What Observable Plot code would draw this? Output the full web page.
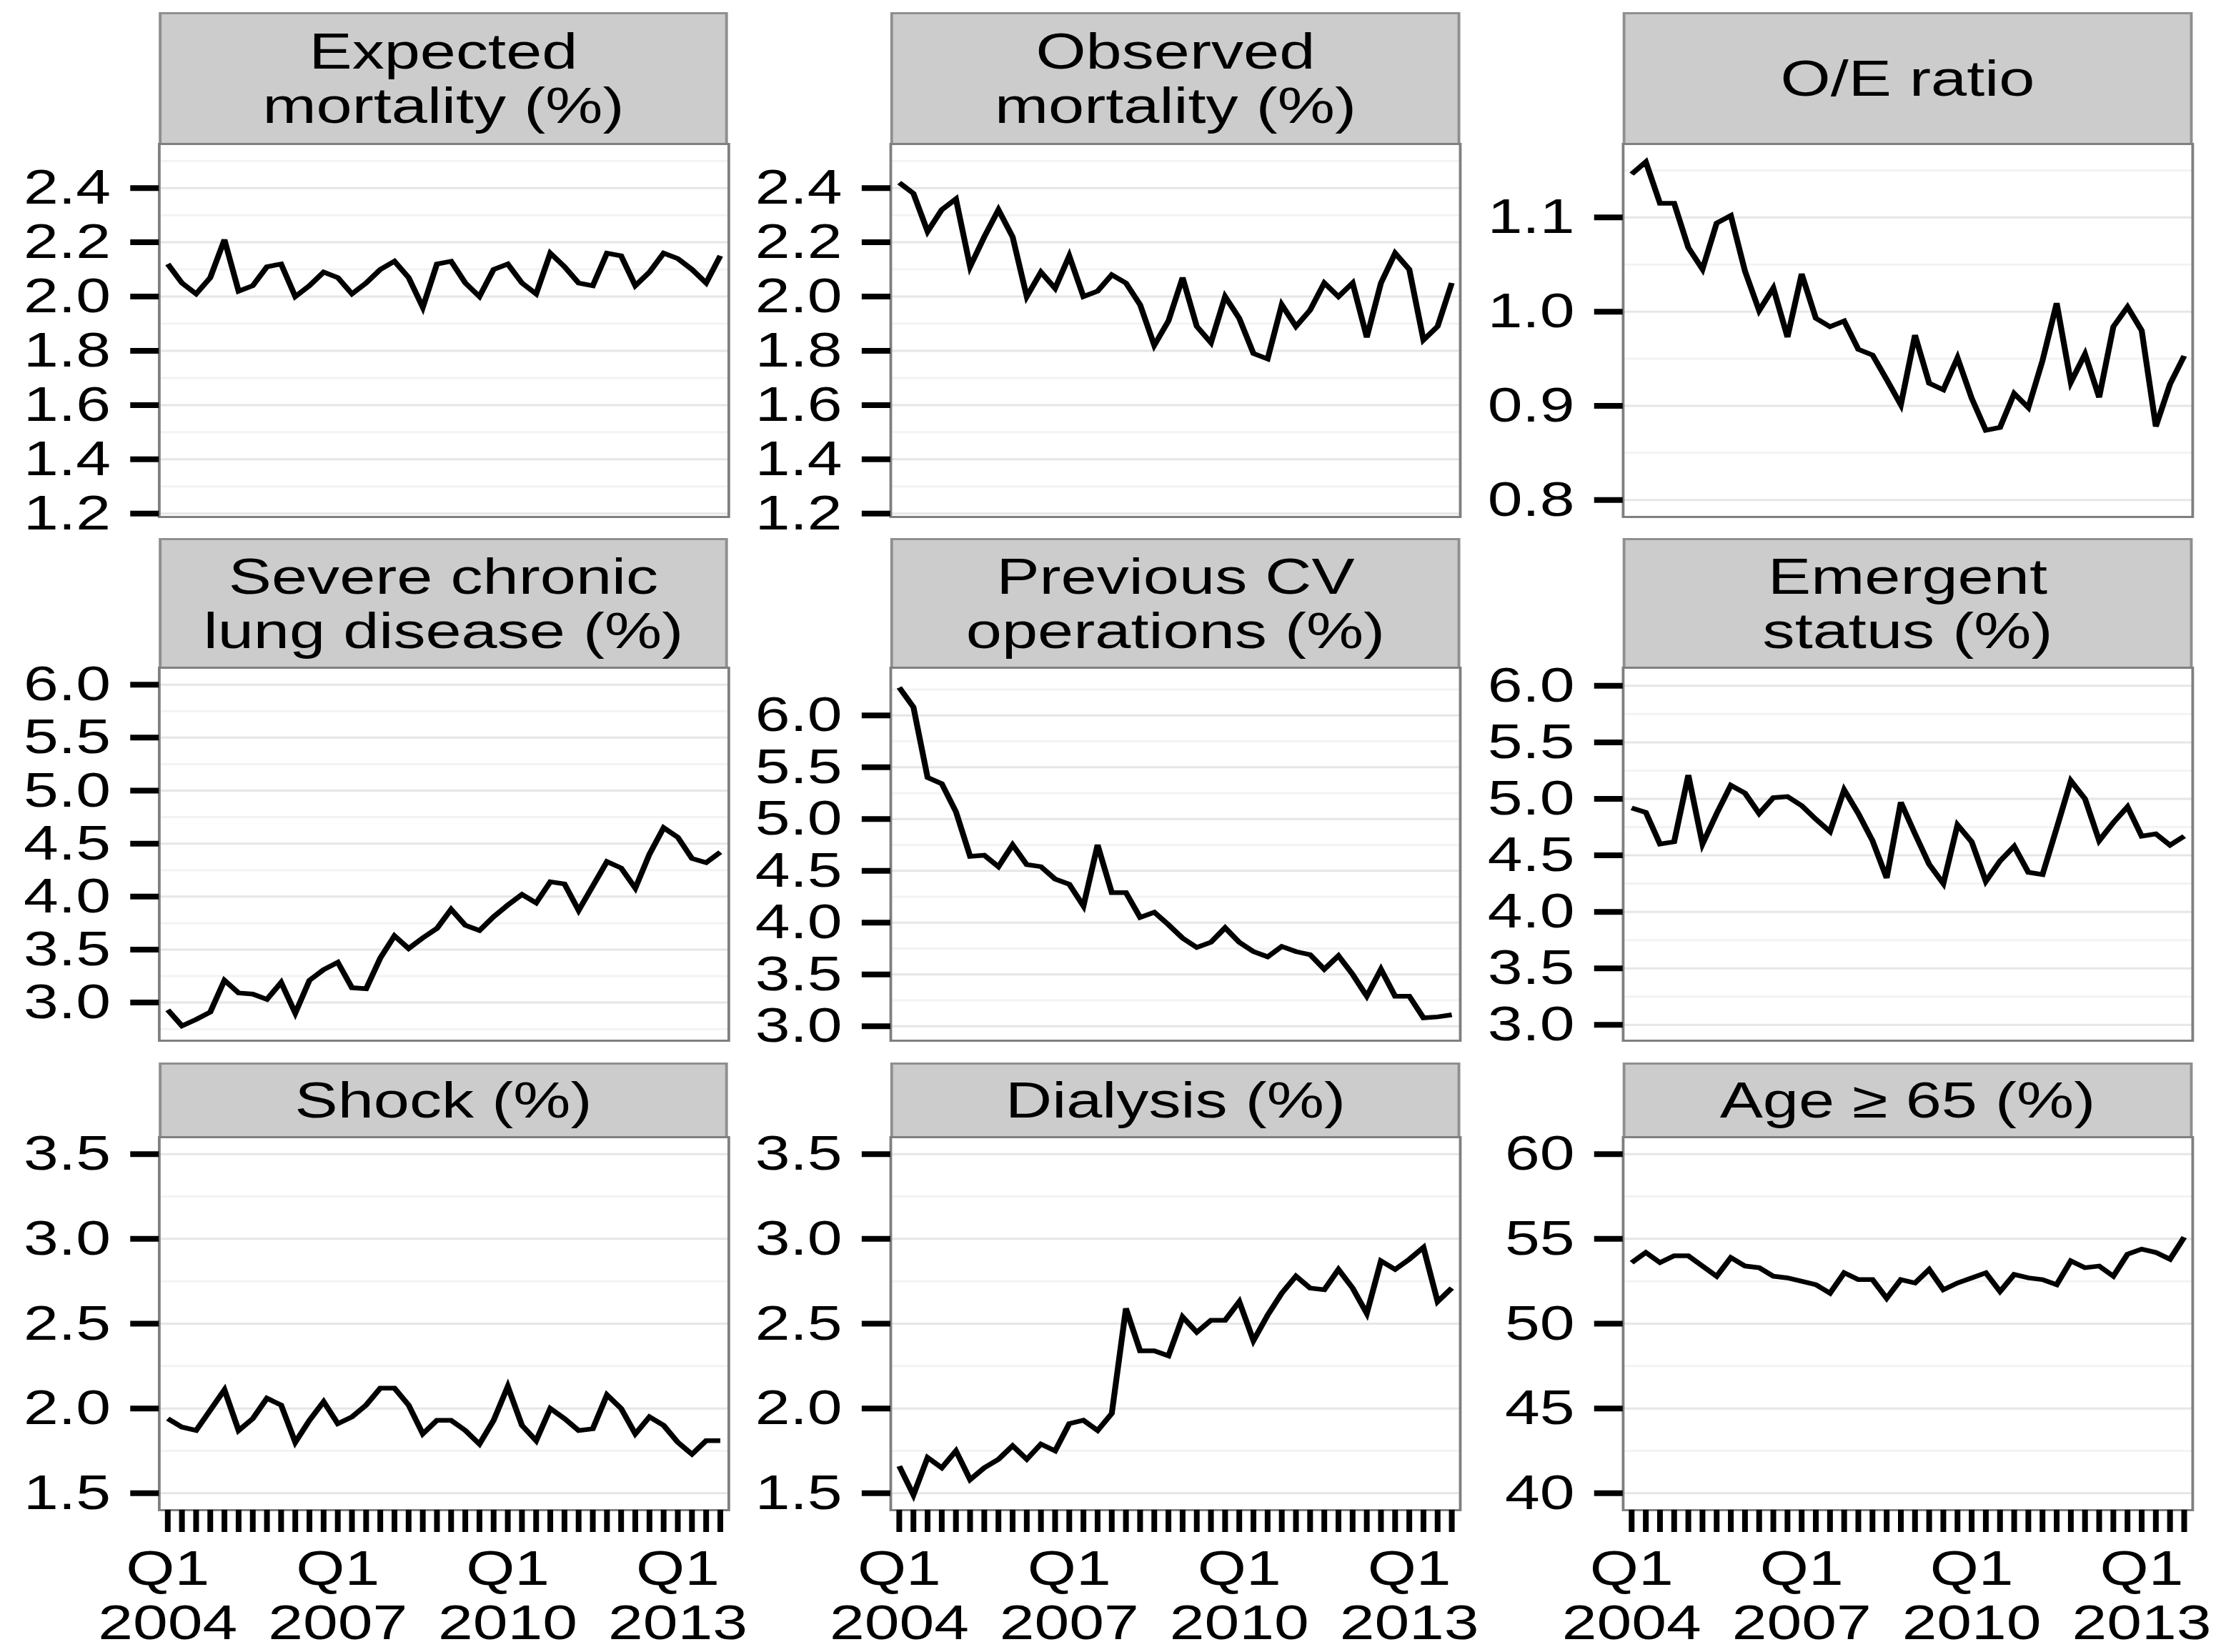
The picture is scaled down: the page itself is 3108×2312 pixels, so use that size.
<!DOCTYPE html>
<html>
<head>
<meta charset="utf-8">
<script src="https://cdn.jsdelivr.net/npm/d3@7"></script>
<script src="https://cdn.jsdelivr.net/npm/@observablehq/plot@0.6"></script>
<style>
  html, body { margin: 0; padding: 0; background: #ffffff; }
  #wrap {
    position: relative; width: 2448px; height: 2312px;
    transform: scaleX(1.27); transform-origin: 0 0;
    font-family: "Liberation Sans", Arial, Helvetica, sans-serif;
  }
  .strip {
    position: absolute; box-sizing: border-box;
    background: #cccccc; border: 3px solid #8f8f8f;
    display: flex; align-items: center; justify-content: center;
    text-align: center; font-size: 71px; line-height: 76px; color: #000;
    white-space: pre;
  }
  .panel { position: absolute; }
  .panel svg { overflow: visible; }
</style>
</head>
<body>
<div id="wrap"></div>
<script>
// ---------------- DATA ----------------
const years = [2004, 2005, 2006, 2007, 2008, 2009, 2010, 2011, 2012, 2013];
const quarterNames = ["Q1", "Q2", "Q3", "Q4"];
const quarters = years.flatMap(y => quarterNames.map(q => `${y} ${q}`));
const labeledQuarters = ["2004 Q1", "2007 Q1", "2010 Q1", "2013 Q1"];
const xTickLabels = ["Q1\n2004", "Q1\n2007", "Q1\n2010", "Q1\n2013"];

const panelTitles = [
  "Expected\nmortality (%)", "Observed\nmortality (%)", "O/E ratio",
  "Severe chronic\nlung disease (%)", "Previous CV\noperations (%)", "Emergent\nstatus (%)",
  "Shock (%)", "Dialysis (%)", "Age \u2265 65 (%)"
];

const expectedMortality = [2.12, 2.05, 2.01, 2.07, 2.21, 2.02, 2.04, 2.11, 2.12, 2.00,
  2.04, 2.09, 2.07, 2.01, 2.05, 2.10, 2.13, 2.07, 1.96, 2.12,
  2.13, 2.05, 2.00, 2.10, 2.12, 2.05, 2.01, 2.16, 2.11, 2.05,
  2.04, 2.16, 2.15, 2.04, 2.09, 2.16, 2.14, 2.10, 2.05, 2.15];
const observedMortality = [2.42, 2.38, 2.24, 2.32, 2.36, 2.11, 2.22, 2.32, 2.22, 2.00,
  2.09, 2.03, 2.15, 2.00, 2.02, 2.08, 2.05, 1.97, 1.82, 1.91,
  2.07, 1.89, 1.83, 2.00, 1.92, 1.79, 1.77, 1.97, 1.89, 1.95,
  2.05, 2.00, 2.05, 1.85, 2.05, 2.16, 2.10, 1.84, 1.89, 2.05];
const oeRatio = [1.146, 1.159, 1.115, 1.115, 1.068, 1.045, 1.094, 1.102, 1.043, 1.001,
  1.025, 0.973, 1.040, 0.993, 0.984, 0.990, 0.960, 0.954, 0.928, 0.901,
  0.975, 0.924, 0.917, 0.951, 0.908, 0.874, 0.877, 0.913, 0.898, 0.948,
  1.009, 0.925, 0.955, 0.909, 0.984, 1.005, 0.980, 0.878, 0.923, 0.953];
const chronicLungDisease = [2.93, 2.78, 2.84, 2.91, 3.21, 3.09, 3.08, 3.03, 3.19, 2.90,
  3.21, 3.31, 3.38, 3.14, 3.13, 3.42, 3.63, 3.51, 3.61, 3.70,
  3.88, 3.73, 3.68, 3.81, 3.92, 4.02, 3.94, 4.14, 4.12, 3.87,
  4.10, 4.33, 4.27, 4.08, 4.40, 4.65, 4.56, 4.36, 4.32, 4.42];
const previousCV = [6.27, 6.08, 5.40, 5.34, 5.07, 4.64, 4.65, 4.54, 4.75, 4.56,
  4.54, 4.42, 4.37, 4.16, 4.75, 4.29, 4.29, 4.05, 4.10, 3.98,
  3.85, 3.76, 3.81, 3.95, 3.81, 3.72, 3.67, 3.77, 3.72, 3.69,
  3.55, 3.68, 3.50, 3.29, 3.55, 3.29, 3.29, 3.08, 3.09, 3.11];
const emergentStatus = [4.92, 4.88, 4.60, 4.62, 5.21, 4.60, 4.87, 5.12, 5.05, 4.87,
  5.01, 5.02, 4.94, 4.82, 4.71, 5.08, 4.87, 4.63, 4.30, 4.97,
  4.69, 4.42, 4.25, 4.77, 4.62, 4.27, 4.45, 4.58, 4.35, 4.33,
  4.74, 5.16, 5.00, 4.63, 4.79, 4.93, 4.67, 4.69, 4.59, 4.67];
const shock = [1.94, 1.89, 1.87, 1.99, 2.11, 1.87, 1.94, 2.06, 2.02, 1.80,
  1.93, 2.04, 1.91, 1.95, 2.02, 2.12, 2.12, 2.02, 1.85, 1.93,
  1.93, 1.87, 1.79, 1.93, 2.13, 1.90, 1.81, 2.00, 1.94, 1.87,
  1.88, 2.08, 2.00, 1.85, 1.95, 1.90, 1.80, 1.73, 1.81, 1.81];
const dialysis = [1.66, 1.49, 1.71, 1.65, 1.75, 1.58, 1.65, 1.70, 1.78, 1.70,
  1.79, 1.75, 1.91, 1.93, 1.87, 1.97, 2.59, 2.34, 2.34, 2.31,
  2.54, 2.45, 2.52, 2.52, 2.63, 2.40, 2.55, 2.68, 2.78, 2.71,
  2.70, 2.82, 2.71, 2.56, 2.87, 2.82, 2.88, 2.95, 2.63, 2.71];
const age65 = [53.6, 54.2, 53.6, 54.0, 54.0, 53.4, 52.8, 53.9, 53.4, 53.3,
  52.8, 52.7, 52.5, 52.3, 51.8, 53.0, 52.6, 52.6, 51.5, 52.6,
  52.4, 53.2, 52.0, 52.4, 52.7, 53.0, 51.9, 52.9, 52.7, 52.6,
  52.3, 53.7, 53.3, 53.4, 52.8, 54.1, 54.4, 54.2, 53.8, 55.1];

const series = [expectedMortality, observedMortality, oeRatio,
  chronicLungDisease, previousCV, emergentStatus,
  shock, dialysis, age65];

// tick values (major) and minor grid values
const ticksMortality = [1.2, 1.4, 1.6, 1.8, 2.0, 2.2, 2.4];
const minorMortality = [1.3, 1.5, 1.7, 1.9, 2.1, 2.3, 2.5];
const ticksOE = [0.8, 0.9, 1.0, 1.1];
const minorOE = [0.85, 0.95, 1.05, 1.15];
const ticksHigh = [3.0, 3.5, 4.0, 4.5, 5.0, 5.5, 6.0];
const minorHigh = [2.75, 3.25, 3.75, 4.25, 4.75, 5.25, 5.75, 6.25];
const ticksLow = [1.5, 2.0, 2.5, 3.0, 3.5];
const minorLow = [1.75, 2.25, 2.75, 3.25];
const ticksAge = [40, 45, 50, 55, 60];
const minorAge = [42.5, 47.5, 52.5, 57.5];

const panelTicks = [ticksMortality, ticksMortality, ticksOE, ticksHigh, ticksHigh, ticksHigh, ticksLow, ticksLow, ticksAge];
const panelMinor = [minorMortality, minorMortality, minorOE, minorHigh, minorHigh, minorHigh, minorLow, minorLow, minorAge];
const panelDomains = [[1.1875, 2.5625], [1.1875, 2.5625], [0.782, 1.178],
  [2.64, 6.16], [2.86, 6.46], [2.86, 6.16],
  [1.40, 3.60], [1.40, 3.60], [39, 61]];

// ---------------- LAYOUT ----------------
const S = 1.27;                       // horizontal stretch of the whole figure
const colLeft = [222, 1246.5, 2271].map(v => v / S);
const panelW = 797 / S;
const rowStripTop = [17, 753, 1487];
const rowPanelTop = [201, 934, 1591];
const panelH = 522;
const ML = 175, MT = 3, MR = 4;

const wrap = document.getElementById("wrap");

series.forEach((values, i) => {
  const r = Math.floor(i / 3), c = i % 3;
  const bottom = r === 2;
  const MB = bottom ? 200 : 4;

  const strip = document.createElement("div");
  strip.className = "strip";
  strip.style.left = colLeft[c] + "px";
  strip.style.top = rowStripTop[r] + "px";
  strip.style.width = panelW + "px";
  strip.style.height = (rowPanelTop[r] - rowStripTop[r] + 2) + "px";
  strip.textContent = panelTitles[i];
  wrap.appendChild(strip);

  const rows = values.map((v, k) => ({quarter: quarters[k], value: v}));
  const fmt = i === 8 ? d3.format("d") : d3.format(".1f");

  const marks = [
    Plot.ruleY(panelMinor[i].filter(v => v >= panelDomains[i][0] && v <= panelDomains[i][1]),
      {stroke: "#f3f3f3", strokeWidth: 3}),
    Plot.ruleY(panelTicks[i], {stroke: "#e6e6e6", strokeWidth: 3}),
    Plot.line(rows, {x: "quarter", y: "value", stroke: "#000", strokeWidth: 6.5,
      strokeLinejoin: "miter", strokeMiterlimit: 4, strokeLinecap: "butt"}),
    Plot.frame({stroke: "#7f7f7f", strokeWidth: 3}),
    Plot.axisY(panelTicks[i], {tickSize: 31.5, tickPadding: 22, strokeWidth: 8, label: null,
      fontSize: 69, tickFormat: fmt, stroke: "#000", fill: "#000"})
  ];
  if (bottom) {
    marks.push(Plot.axisX(quarters, {tickSize: 31, tickPadding: 20, strokeWidth: 6.3, label: null,
      fontSize: 69, lineHeight: 1.1, stroke: "#000", fill: "#000",
      tickFormat: d => { const k = labeledQuarters.indexOf(d); return k < 0 ? "" : xTickLabels[k]; }}));
  }

  const chart = Plot.plot({
    width: ML + panelW + MR,
    height: panelH + MT + MB,
    marginLeft: ML, marginRight: MR, marginTop: MT, marginBottom: MB,
    x: {type: "point", domain: quarters, padding: 0.6, round: false, label: null,
        axis: bottom ? undefined : null},
    y: {domain: panelDomains[i], label: null},
    style: {fontFamily: '"Liberation Sans", Arial, Helvetica, sans-serif', fontSize: "69px",
      color: "#000", background: "transparent", overflow: "visible"},
    marks
  });

  const holder = document.createElement("div");
  holder.className = "panel";
  holder.style.left = (colLeft[c] - ML) + "px";
  holder.style.top = (rowPanelTop[r] - MT) + "px";
  holder.appendChild(chart);
  wrap.appendChild(holder);
});
</script>
</body>
</html>
